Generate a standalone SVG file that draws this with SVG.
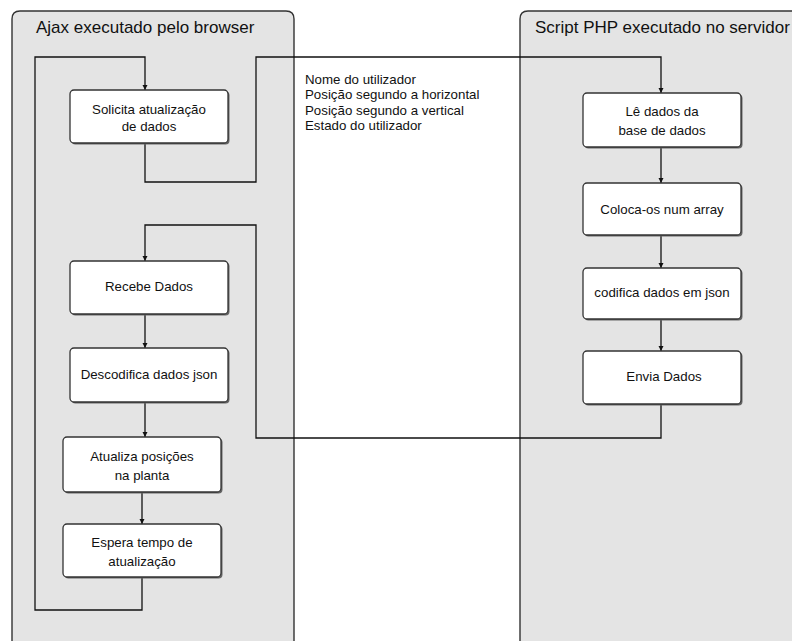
<svg xmlns="http://www.w3.org/2000/svg" width="792" height="641" viewBox="0 0 792 641">
<defs>
<style>
.lane{fill:#e4e4e4;stroke:#333;stroke-width:1.4}
.title{font-family:"Liberation Sans",Arial,sans-serif;font-size:17px;fill:#111}
.box{fill:#fff;stroke:#333;stroke-width:1.3}
.shadow{fill:#666}
.t{font-family:"Liberation Sans",Arial,sans-serif;font-size:13.3px;fill:#111;text-anchor:middle}
.note{font-family:"Liberation Sans",Arial,sans-serif;font-size:13.3px;fill:#111}
.c{fill:none;stroke:#111;stroke-width:1.3}
</style>
<marker id="ah" viewBox="0 0 10 10" refX="10" refY="5" markerWidth="5" markerHeight="6" orient="auto" markerUnits="userSpaceOnUse">
<path d="M0,0 L10,5 L0,10 Z" fill="#111"/>
</marker>
</defs>
<rect width="792" height="641" fill="#fff"/>
<g id="lane-browser">
<path class="lane" d="M12,660 L12,19 Q12,11 20,11 L286,11 Q294,11 294,19 L294,660"/>
<text class="title" x="36" y="33">Ajax executado pelo browser</text>
</g>
<g id="lane-server">
<path class="lane" d="M520,660 L520,19 Q520,11 528,11 L800,11 L800,660"/>
<text class="title" x="535" y="33">Script PHP executado no servidor</text>
</g>
<g id="connectors">
<path class="c" d="M142,577 L142,610 L35,610 L35,57 L145,57 L145,90" marker-end="url(#ah)"/>
<path class="c" d="M145,143 L145,182 L256,182 L256,57 L661,57 L661,93" marker-end="url(#ah)"/>
<path class="c" d="M661,147 L661,183" marker-end="url(#ah)"/>
<path class="c" d="M661,235 L661,268" marker-end="url(#ah)"/>
<path class="c" d="M661,319 L661,351" marker-end="url(#ah)"/>
<path class="c" d="M661,404 L661,438 L256,438 L256,225 L145,225 L145,261" marker-end="url(#ah)"/>
<path class="c" d="M145,314 L145,348" marker-end="url(#ah)"/>
<path class="c" d="M145,402 L145,437" marker-end="url(#ah)"/>
<path class="c" d="M142,492 L142,524" marker-end="url(#ah)"/>
</g>
<g id="n-solicita">
<rect class="shadow" x="71.5" y="91.5" width="158" height="53" rx="4"/>
<rect class="box" x="70" y="90" width="158" height="53" rx="4"/>
<text class="t" x="149" y="114">Solicita atualização</text>
<text class="t" x="149" y="131">de dados</text>
</g>
<g id="n-recebe">
<rect class="shadow" x="71.5" y="262.5" width="158" height="53" rx="4"/>
<rect class="box" x="70" y="261" width="158" height="53" rx="4"/>
<text class="t" x="149" y="291">Recebe Dados</text>
</g>
<g id="n-descodifica">
<rect class="shadow" x="71.5" y="349.5" width="158" height="54" rx="4"/>
<rect class="box" x="70" y="348" width="158" height="54" rx="4"/>
<text class="t" x="149" y="379">Descodifica dados json</text>
</g>
<g id="n-atualiza">
<rect class="shadow" x="64.5" y="438.5" width="158" height="55" rx="4"/>
<rect class="box" x="63" y="437" width="158" height="55" rx="4"/>
<text class="t" x="142" y="461">Atualiza posições</text>
<text class="t" x="142" y="480">na planta</text>
</g>
<g id="n-espera">
<rect class="shadow" x="64.5" y="525.5" width="158" height="53" rx="4"/>
<rect class="box" x="63" y="524" width="158" height="53" rx="4"/>
<text class="t" x="142" y="547">Espera tempo de</text>
<text class="t" x="142" y="566">atualização</text>
</g>
<g id="n-le">
<rect class="shadow" x="584.5" y="94.5" width="158" height="54" rx="4"/>
<rect class="box" x="583" y="93" width="158" height="54" rx="4"/>
<text class="t" x="662" y="116">Lê dados da</text>
<text class="t" x="662" y="135">base de dados</text>
</g>
<g id="n-coloca">
<rect class="shadow" x="584.5" y="184.5" width="158" height="52" rx="4"/>
<rect class="box" x="583" y="183" width="158" height="52" rx="4"/>
<text class="t" x="662" y="214">Coloca-os num array</text>
</g>
<g id="n-codifica">
<rect class="shadow" x="584.5" y="269.5" width="158" height="51" rx="4"/>
<rect class="box" x="583" y="268" width="158" height="51" rx="4"/>
<text class="t" x="662" y="297">codifica dados em json</text>
</g>
<g id="n-envia">
<rect class="shadow" x="584.5" y="352.5" width="158" height="53" rx="4"/>
<rect class="box" x="583" y="351" width="158" height="53" rx="4"/>
<text class="t" x="664" y="381">Envia Dados</text>
</g>
<g id="data-note">
<text class="note" x="305" y="84">Nome do utilizador</text>
<text class="note" x="305" y="99">Posição segundo a horizontal</text>
<text class="note" x="305" y="115">Posição segundo a vertical</text>
<text class="note" x="305" y="130">Estado do utilizador</text>
</g>
</svg>
